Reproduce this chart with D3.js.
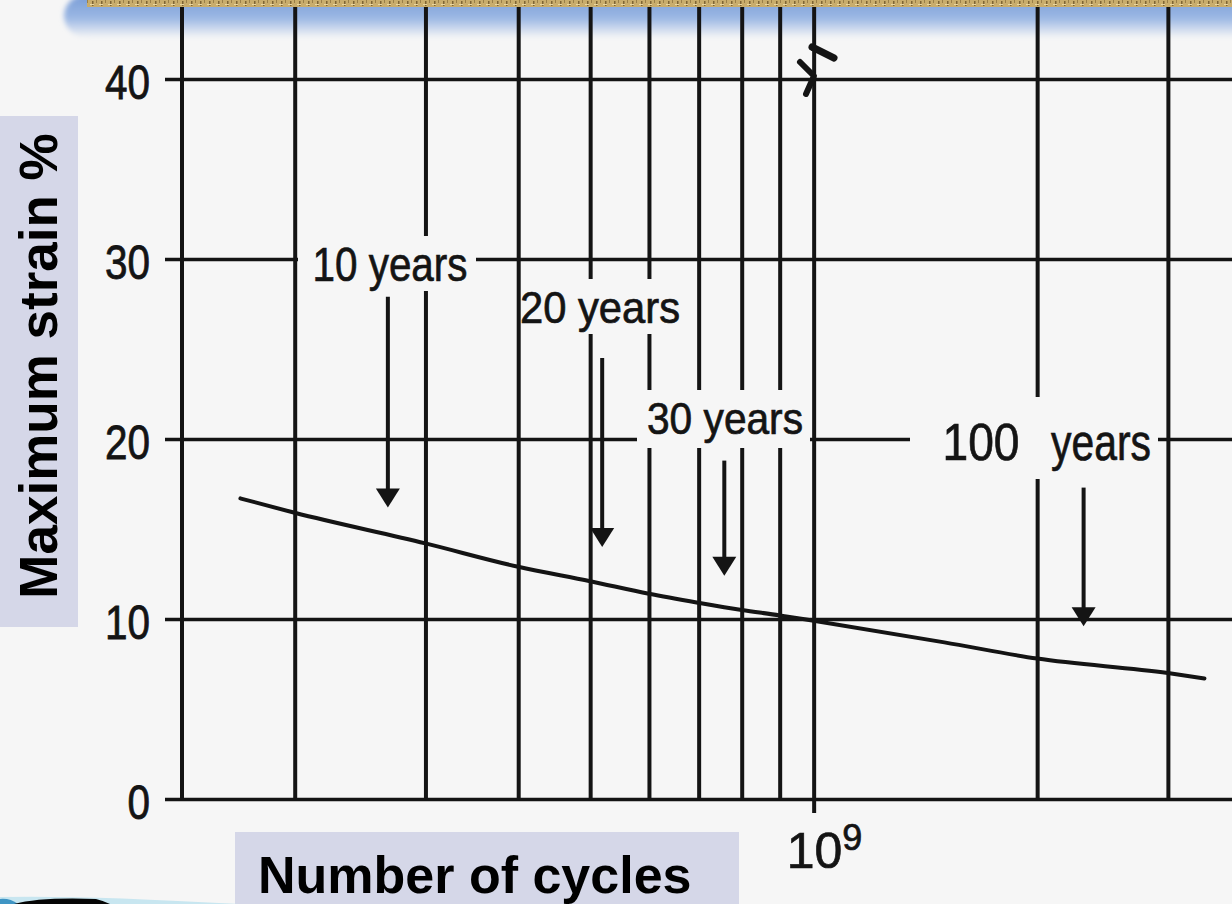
<!DOCTYPE html>
<html><head><meta charset="utf-8">
<script src="https://cdn.jsdelivr.net/npm/d3@7"></script>
<style>
html,body{margin:0;padding:0;background:#f6f6f6;}
svg{display:block;}
</style></head><body>
<svg id="chart" width="1232" height="904"></svg>
<script>
// ---------- data ----------
const yTickValues = [0, 10, 20, 30, 40];
const yTickLabels = ["0", "10", "20", "30", "40"];
const xGridCycles = [2e8, 3e8, 4e8, 5e8, 6e8, 7e8, 8e8, 9e8, 1e9, 2e9, 3e9];
const xLabelCycles = [1e9];
const xLabelBase = ["10"];
const xLabelExp = ["9"];
const curveCycles = [1.69e8, 2e8, 3e8, 4e8, 5e8, 6e8, 7e8, 8e8, 9e8, 1e9, 1.5e9, 2e9, 3e9, 3.36e9];
const curveStrain = [16.7, 15.9, 14.2, 12.9, 12.1, 11.4, 10.9, 10.5, 10.2, 9.9, 8.7, 7.8, 7.0, 6.7];
const lifeLabels = ["10 years", "20 years", "30 years", "100 years"];
const lifeCycles = [2.67e8, 5.19e8, 7.58e8, 2.31e9];
const arrowFromStrain = [27.9, 24.5, 18.8, 17.3];
const arrowToStrain = [16.2, 14.0, 12.4, 9.6];
const yTitle = "Maximum strain %";
const xTitle = "Number of cycles";

// ---------- layout ----------
const W = 1232, H = 904;
const plotLeft = 182, plotRight = 1232, plotTop = 0, plotBottom = 799;
const x = d3.scaleLog().domain([1.41e8, 3.66e9]).range([plotLeft, plotRight]);
const y = d3.scaleLinear().domain([0, 40]).range([plotBottom, 79]);
const ink = "#141414";
const narrow = "'Liberation Sans Narrow','Arial Narrow','Liberation Sans',Arial,sans-serif";
const bold = "'Liberation Sans',Arial,Helvetica,sans-serif";

const labelLayout = [
  {parts: [{cx: 390, w: 155}], base: 281, size: 48, box: [298, 236, 476, 291]},
  {parts: [{cx: 600, w: 160}], base: 323, size: 44, box: [521, 279, 686, 334]},
  {parts: [{cx: 725, w: 156}], base: 434, size: 44, box: [637, 390, 810, 448]},
  {parts: [{cx: 981, w: 77}, {cx: 1101, w: 100}], base: 460, size: 52, box: [910, 397, 1158, 479]}
];

const svg = d3.select("#chart");
const defs = svg.append("defs");

const g1 = defs.append("linearGradient").attr("id", "topfade").attr("x1", 0).attr("y1", 0).attr("x2", 0).attr("y2", 1);
g1.append("stop").attr("offset", "0%").attr("stop-color", "#779bd6");
g1.append("stop").attr("offset", "55%").attr("stop-color", "#9cb8e4");
g1.append("stop").attr("offset", "100%").attr("stop-color", "#f6f6f6");
defs.append("filter").attr("id", "blur").attr("x", "-10%").attr("y", "-50%").attr("width", "120%").attr("height", "200%")
  .append("feGaussianBlur").attr("stdDeviation", 2.5);

const pat = defs.append("pattern").attr("id", "gold").attr("width", 9).attr("height", 7).attr("patternUnits", "userSpaceOnUse");
pat.append("rect").attr("width", 9).attr("height", 7).attr("fill", "#c9ad6c");
pat.append("rect").attr("x", 2).attr("y", 1).attr("width", 1.5).attr("height", 5).attr("fill", "#7d6434");
pat.append("rect").attr("x", 6).attr("y", 0).attr("width", 1).attr("height", 3).attr("fill", "#9a7f48");
pat.append("rect").attr("x", 0).attr("y", 4).attr("width", 4).attr("height", 1).attr("fill", "#ead7a0");

// background
svg.append("rect").attr("width", W).attr("height", H).attr("fill", "#f6f6f6");

// top blue fade band
svg.append("rect").attr("x", 64).attr("y", -6).attr("width", 1220).attr("height", 44).attr("rx", 24)
  .attr("fill", "url(#topfade)").attr("filter", "url(#blur)");

// vertical grid lines (log axis)
const xGrid = svg.append("g").attr("transform", `translate(0,${plotBottom})`)
  .call(d3.axisBottom(x).tickValues(xGridCycles).tickSize(-(plotBottom - plotTop)).tickFormat(""));
xGrid.select(".domain").remove();
xGrid.selectAll(".tick line").attr("stroke", ink).attr("stroke-width", 4);

// 10^9 tick below axis with label
const xTick = svg.append("g").attr("transform", `translate(0,${plotBottom})`)
  .call(d3.axisBottom(x).tickValues(xLabelCycles).tickSize(14).tickFormat(""));
xTick.select(".domain").remove();
xTick.selectAll(".tick line").attr("stroke", ink).attr("stroke-width", 4);
xLabelCycles.forEach((c, i) => {
  const t = svg.append("text").attr("x", x(c) - 27).attr("y", 868)
    .attr("font-family", narrow).attr("font-size", 50).attr("fill", ink)
    .attr("stroke", ink).attr("stroke-width", 0.7);
  t.append("tspan").text(xLabelBase[i]);
  t.append("tspan").attr("dy", -18).attr("font-size", 36).text(xLabelExp[i]);
});

// horizontal grid lines + y ticks + labels
const yAxis = svg.append("g").attr("transform", `translate(${plotRight},0)`)
  .call(d3.axisLeft(y).tickValues(yTickValues).tickSize(plotRight - 165).tickPadding(15)
    .tickFormat((d, i) => yTickLabels[i]));
yAxis.select(".domain").remove();
yAxis.selectAll(".tick line").attr("stroke", ink).attr("stroke-width", 3.6);
yAxis.selectAll(".tick text").attr("font-family", narrow).attr("font-size", 48).attr("fill", ink)
  .attr("stroke", ink).attr("stroke-width", 0.8)
  .attr("dy", "0.40em")
  .attr("textLength", (d, i) => yTickLabels[i].length * 22.5).attr("lengthAdjust", "spacingAndGlyphs");

// left axis line
svg.append("line").attr("x1", x(x.domain()[0])).attr("x2", x(x.domain()[0]))
  .attr("y1", plotTop).attr("y2", plotBottom).attr("stroke", ink).attr("stroke-width", 4);

// curve
const pts = curveCycles.map((c, i) => [c, curveStrain[i]]);
svg.append("path").datum(pts)
  .attr("d", d3.line().x(d => x(d[0])).y(d => y(d[1])).curve(d3.curveMonotoneX))
  .attr("fill", "none").attr("stroke", ink).attr("stroke-width", 4).attr("stroke-linecap", "round");

// label boxes and labels
lifeLabels.forEach((lab, i) => {
  const L = labelLayout[i];
  svg.append("rect").attr("x", L.box[0]).attr("y", L.box[1])
    .attr("width", L.box[2] - L.box[0]).attr("height", L.box[3] - L.box[1]).attr("fill", "#f6f6f6");
  const words = L.parts.length > 1 ? lab.split(" ") : [lab];
  words.forEach((w, j) => {
    const P = L.parts[j];
    svg.append("text").attr("x", P.cx).attr("y", L.base).attr("text-anchor", "middle")
      .attr("font-family", narrow).attr("font-size", L.size).attr("fill", ink)
      .attr("stroke", ink).attr("stroke-width", 0.7)
      .attr("textLength", P.w).attr("lengthAdjust", "spacingAndGlyphs").text(w);
  });
});

// arrows
lifeCycles.forEach((c, i) => {
  const xc = x(c), y0 = y(arrowFromStrain[i]), y1 = y(arrowToStrain[i]);
  svg.append("line").attr("x1", xc).attr("x2", xc).attr("y1", y0).attr("y2", y1 - 14)
    .attr("stroke", ink).attr("stroke-width", 4);
  svg.append("path").attr("d", `M${xc - 12},${y1 - 19}L${xc + 12},${y1 - 19}L${xc},${y1}Z`).attr("fill", ink);
});

// hand-drawn mark near top
svg.append("path").attr("d", "M800,62 L814,76 L806,94").attr("fill", "none").attr("stroke", ink)
  .attr("stroke-width", 6).attr("stroke-linecap", "round").attr("stroke-linejoin", "round");
svg.append("path").attr("d", "M812,47 L834,58").attr("fill", "none").attr("stroke", ink)
  .attr("stroke-width", 7).attr("stroke-linecap", "round");

// gold strip at top
svg.append("rect").attr("x", 87).attr("y", 0).attr("width", W - 87).attr("height", 7).attr("fill", "url(#gold)");

// axis title boxes
svg.append("rect").attr("x", 0).attr("y", 116).attr("width", 78).attr("height", 511).attr("fill", "#d5d7e8");
svg.append("text").attr("transform", "translate(57,366) rotate(-90)").attr("text-anchor", "middle")
  .attr("font-family", bold).attr("font-weight", "bold").attr("font-size", 53).attr("fill", "#000").text(yTitle);

svg.append("rect").attr("x", 235).attr("y", 832).attr("width", 504).attr("height", 80).attr("fill", "#d5d7e8");
svg.append("text").attr("x", 258).attr("y", 893)
  .attr("font-family", bold).attr("font-weight", "bold").attr("font-size", 52).attr("fill", "#000").text(xTitle);

// bottom-left swoosh decoration
svg.append("path").attr("d", "M0,897 Q80,895 240,904 L0,904Z").attr("fill", "#c8e6f0");
svg.append("path").attr("d", "M0,899 Q10,898 18,904 L0,904Z").attr("fill", "#3f95c4");
svg.append("path").attr("d", "M14,904 Q40,897 96,899 Q104,901 110,904Z").attr("fill", "#050505");
</script>
</body></html>
